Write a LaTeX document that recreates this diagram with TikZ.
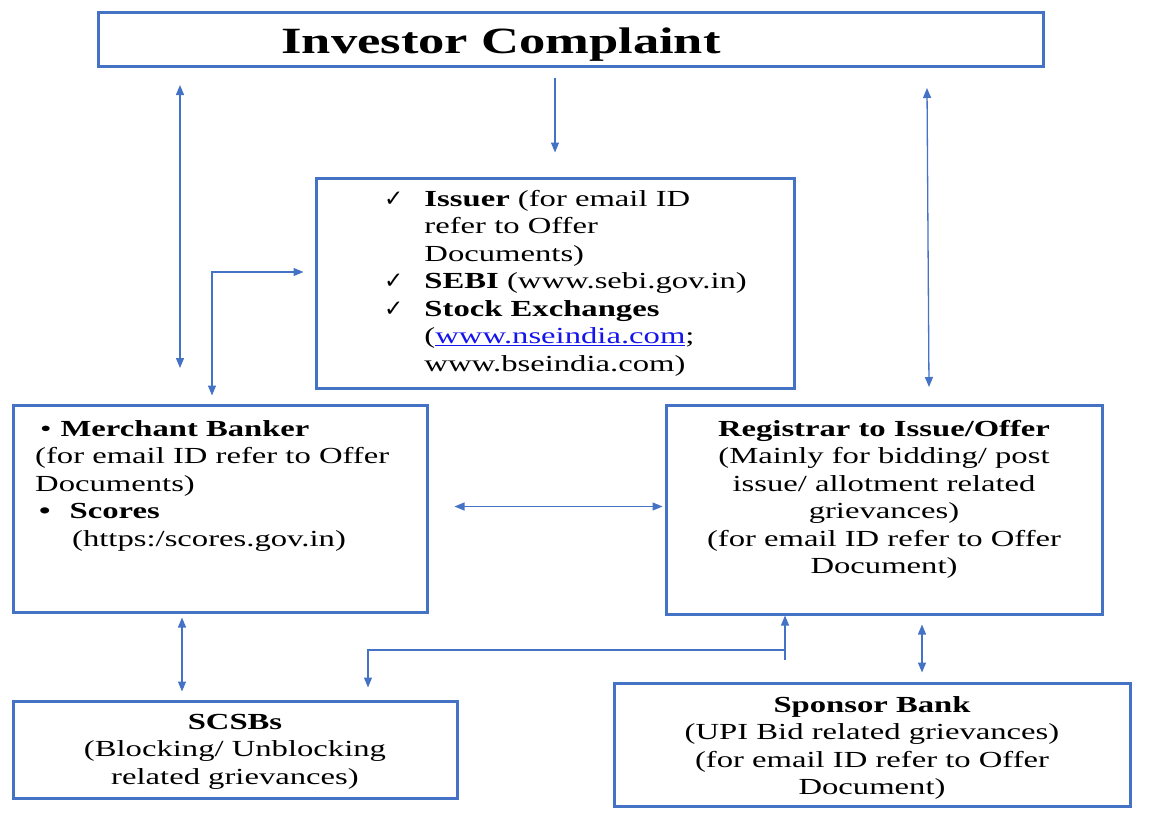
\documentclass[tikz,border=0pt]{standalone}
\usepackage{fontspec}
\setmainfont[FakeStretch=1.42]{Liberation Serif}
\newfontfamily\symfont{DejaVu Sans}
\usepackage{xcolor}
\usetikzlibrary{arrows.meta}
\definecolor{boxblue}{RGB}{68,114,196}
\definecolor{linkblue}{RGB}{20,20,235}
\tikzset{
  box/.style={draw=boxblue, line width=3pt, inner sep=0},
  txt/.style={inner sep=0, font=\fontsize{23}{27.5}\selectfont},
  link/.style={draw=boxblue, line width=1.3pt, >={Triangle[width=8pt,length=10pt]}}
}

\begin{document}
\begin{tikzpicture}[x=1pt, y=-1pt]
            \useasboundingbox (0,0) rectangle (1164,817);
            \node[box, minimum width=945, minimum height=54] (title) at (570.5,39) {};
            \node[box, minimum width=478, minimum height=210] (issuer) at (555,283) {};
            \node[box, minimum width=414, minimum height=207] (merchant) at (220,508.5) {};
            \node[box, minimum width=436, minimum height=209] (registrar) at (884,509.5) {};
            \node[box, minimum width=444, minimum height=97] (scsb) at (235,749.5) {};
            \node[box, minimum width=516, minimum height=123] (sponsor) at (872,744.5) {};

            \node[font=\fontsize{37}{40}\selectfont\bfseries] (titletext) at (501,45) {Investor Complaint};
            \node[txt, anchor=north west] (issuertext) at (384,187) {\begin{tabular}{@{}l@{\hspace{21pt}}l@{}}
              {\symfont\bfseries ✓} & \textbf{Issuer} (for email ID\\ & refer to Offer\\ & Documents)\\
              {\symfont\bfseries ✓} & \textbf{SEBI} (www.sebi.gov.in)\\
              {\symfont\bfseries ✓} & \textbf{Stock Exchanges}\\ & ({\color{linkblue}\underline{www.nseindia.com}};\\ & www.bseindia.com)\end{tabular}};
            \node[txt, anchor=north west, align=left] (merchanttext) at (35,420) {\hspace*{5pt}•\hspace{9pt}\textbf{Merchant Banker}\\(for email ID refer to Offer\\Documents)\\
              \hspace*{4pt}\textbf{•}\hspace{19pt}\textbf{Scores}\\\hspace*{37pt}(https:/scores.gov.in)};
            \node[txt, anchor=north, align=center] (registrartext) at (884,420) {\textbf{Registrar to Issue/Offer}\\(Mainly for bidding/ post\\issue/ allotment related\\grievances)\\(for email ID refer to Offer\\Document)};
            \node[txt, anchor=north, align=center] (scsbtext) at (235,714) {\textbf{SCSBs}\\(Blocking/ Unblocking\\related grievances)};
            \node[txt, anchor=north, align=center] (sponsortext) at (872,696) {\textbf{Sponsor Bank}\\(UPI Bid related grievances)\\(for email ID refer to Offer\\Document)};

            \coordinate (invl) at (180,85);
            \coordinate (mbt) at (180,368);
            \coordinate (invr) at (927,88);
            \coordinate (rgt) at (929,387);
            \coordinate (sbj) at (785,660);
            \coordinate (sbk) at (785,650);

            \draw[link, ->, shorten <=10pt, shorten >=24pt] (title.south -| issuer.north) -- (issuer.north);
            \draw[link, <->] (invl) -- (mbt);
            \draw[link, <->] (invr) -- (rgt);
            \draw[link, <->, shorten <=11pt, shorten >=8pt] ([yshift=11pt]issuer.west) -| ([xshift=-8pt]merchant.north);
            \draw[link, <->, shorten <=26pt, shorten >=2pt] ([yshift=2pt]merchant.east) -- ([yshift=2pt]merchant.east -| registrar.west);
            \draw[link, <->, shorten <=4pt, shorten >=8pt] ([xshift=-38pt]merchant.south) -- ([xshift=-53pt]scsb.north);
            \draw[link, <->, shorten <=9pt, shorten >=9pt] ([xshift=38pt]registrar.south) -- ([xshift=50pt]sponsor.north);
            \draw[link, ->] (sbj) -- (sbj |- registrar.south);
            \draw[link, ->, shorten >=12pt] (sbk) -| ([xshift=133pt]scsb.north);
\end{tikzpicture}
\end{document}
